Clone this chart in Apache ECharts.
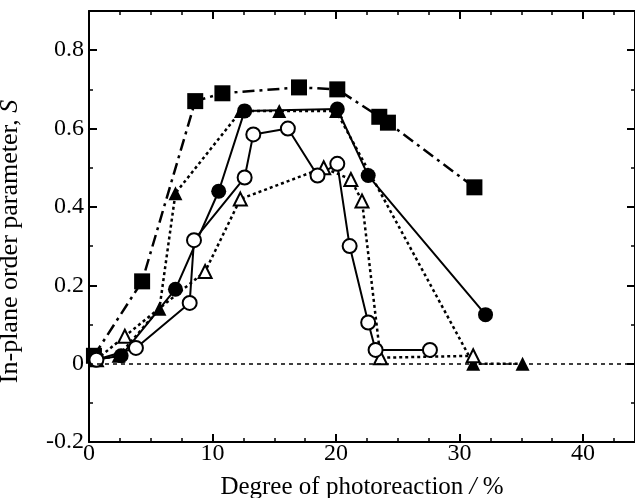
<!DOCTYPE html>
<html>
<head>
<meta charset="utf-8">
<script src="https://cdn.jsdelivr.net/npm/echarts@6/dist/echarts.min.js"></script>
<style>
  html, body { margin: 0; padding: 0; background: #fff; }
  #chart { width: 635px; height: 498px; }
</style>
</head>
<body>
<div id="chart"></div>
<script>
// values
const sqX = [0.4, 4.3, 8.6, 10.8, 17.0, 20.1, 23.5, 24.2, 31.2];
const sqY = [0.02, 0.21, 0.67, 0.69, 0.705, 0.70, 0.63, 0.615, 0.45];

const fcX = [0.5, 2.6, 7.0, 10.5, 12.6, 20.1, 22.6, 32.1];
const fcY = [0.01, 0.02, 0.19, 0.44, 0.645, 0.65, 0.48, 0.125];

const ftX = [0.5, 2.4, 5.7, 7.0, 12.3, 15.4, 20.0, 31.1, 35.1];
const ftY = [0.01, 0.02, 0.14, 0.435, 0.645, 0.645, 0.645, 0.0, 0.0];

const otX = [0.6, 2.9, 9.4, 12.25, 19.0, 21.2, 22.1, 23.6, 31.1];
const otY = [0.01, 0.07, 0.235, 0.42, 0.5, 0.47, 0.415, 0.015, 0.02];

const ocX = [0.6, 3.8, 8.15, 8.5, 12.6, 13.3, 16.1, 18.5, 20.1, 21.1, 22.6, 23.2, 27.6];
const ocY = [0.01, 0.04, 0.155, 0.315, 0.475, 0.585, 0.60, 0.48, 0.51, 0.30, 0.105, 0.035, 0.035];

const zeroLine = [0];

function pairs(xs, ys) {
  return xs.map((x, i) => [x, ys[i]]);
}

const font = 'Liberation Serif';

function mkSeries(name, xs, ys, symbol, size, filled, lineType, width) {
  return {
    name: name,
    type: 'line',
    data: pairs(xs, ys),
    symbol: symbol,
    symbolSize: size,
    showAllSymbol: true,
    itemStyle: {
      color: filled ? '#000' : '#fff',
      borderColor: '#000',
      borderWidth: filled ? 0 : 2
    },
    lineStyle: { color: '#000', width: width, type: lineType },
    emphasis: { disabled: true },
    z: filled ? 3 : 4
  };
}

const chart = echarts.init(document.getElementById('chart'));

const axLine = { show: true, onZero: false, lineStyle: { color: '#000', width: 2 } };
const axTick = { show: true, inside: true, length: 8, lineStyle: { color: '#000', width: 2 } };
const xMinor = { show: true, splitNumber: 4, length: 4, lineStyle: { color: '#000', width: 1.5 } };
const yMinor = { show: true, splitNumber: 2, length: 4, lineStyle: { color: '#000', width: 1.5 } };

chart.setOption({
  animation: false,
  grid: { left: 89, right: 0, top: 11, bottom: 56, containLabel: false, outerBoundsMode: 'none' },
  xAxis: [
    {
      type: 'value', min: 0, max: 44.2, interval: 10, position: 'bottom',
      axisLine: axLine, axisTick: axTick, minorTick: xMinor, splitLine: { show: false },
      axisLabel: { color: '#000', fontFamily: font, fontSize: 24, margin: 0, showMaxLabel: false },
      name: 'Degree of photoreaction {i|/} %',
      nameLocation: 'middle',
      nameGap: 33,
      nameTextStyle: {
        color: '#000', fontFamily: font, fontSize: 25,
        rich: { i: { fontFamily: font, fontSize: 25, fontStyle: 'italic', color: '#000' } }
      }
    },
    {
      type: 'value', min: 0, max: 44.2, interval: 10, position: 'top',
      axisLine: axLine, axisTick: axTick, minorTick: xMinor,
      axisLabel: { show: false }, splitLine: { show: false }
    }
  ],
  yAxis: [
    {
      type: 'value', min: -0.2, max: 0.9, interval: 0.2, position: 'left',
      axisLine: axLine, axisTick: axTick, minorTick: yMinor, splitLine: { show: false },
      axisLabel: {
        color: '#000', fontFamily: font, fontSize: 24, margin: 5, showMaxLabel: false,
        formatter: v => (Math.abs(v) < 1e-9 ? '0' : v.toFixed(1))
      },
      name: 'In-plane order parameter, {i|S}',
      nameLocation: 'middle',
      nameRotate: 90,
      nameGap: 66,
      nameTextStyle: {
        color: '#000', fontFamily: font, fontSize: 26,
        padding: [0, 30, 0, 0],
        rich: { i: { fontFamily: font, fontSize: 26, fontStyle: 'italic', color: '#000' } }
      }
    },
    {
      type: 'value', min: -0.2, max: 0.9, interval: 0.2, position: 'right',
      axisLine: axLine, axisTick: axTick, minorTick: yMinor,
      axisLabel: { show: false }, splitLine: { show: false }
    }
  ],
  series: [
    Object.assign(mkSeries('sq', sqX, sqY, 'rect', 16, true, [12, 5, 3, 5], 2.5), {
      markLine: {
        silent: true,
        symbol: 'none',
        label: { show: false },
        lineStyle: { color: '#000', width: 1.5, type: [4, 4] },
        data: zeroLine.map(v => ({ yAxis: v }))
      }
    }),
    mkSeries('fc', fcX, fcY, 'circle', 15, true, 'solid', 2),
    mkSeries('ft', ftX, ftY, 'triangle', 14, true, [3, 3], 2.5),
    mkSeries('ot', otX, otY, 'triangle', 13, false, [3, 3], 2.5),
    mkSeries('oc', ocX, ocY, 'circle', 14, false, 'solid', 2)
  ]
});
</script>
</body>
</html>
